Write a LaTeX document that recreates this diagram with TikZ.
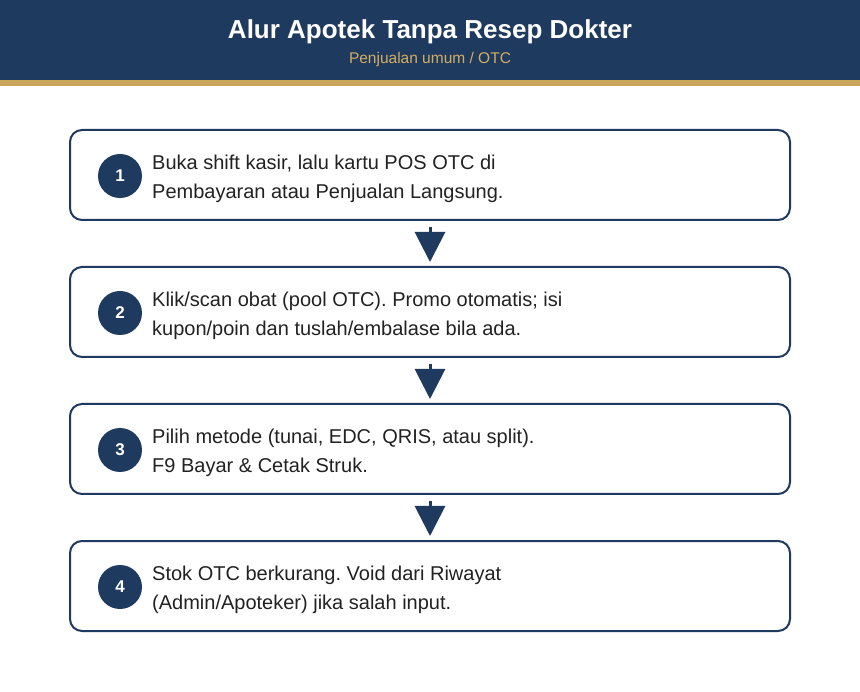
\documentclass[tikz,border=0pt]{standalone}
\usepackage{fontspec}
\setmainfont{Liberation Sans}
\frenchspacing
\usetikzlibrary{arrows.meta}
\definecolor{navy}{HTML}{1F3A5F}
\definecolor{gold}{HTML}{C8A55A}
\definecolor{subgold}{HTML}{D2AE62}
\definecolor{txt}{HTML}{222222}
\tikzset{
  stepbox/.style={draw=navy, line width=2pt, rounded corners=12pt, minimum width=720pt, minimum height=90pt, fill=white},
  numcirc/.style={circle, fill=navy, minimum size=44pt, inner sep=0pt, text=white, font=\fontsize{17pt}{19pt}\selectfont\bfseries},
  steptext/.style={anchor=west, align=left, text=txt, inner sep=0pt, font=\fontsize{20pt}{29pt}\selectfont},
  flowarrow/.style={draw=navy, line width=3pt, -{Triangle[width=30pt,length=30pt]}, shorten >=4pt, shorten <=6pt}
}
\begin{document}
\begin{tikzpicture}[x=1pt,y=-1pt]
\useasboundingbox (0,0) rectangle (860,692);
\fill[white] (0,0) rectangle (860,692);
\fill[navy] (0,0) rectangle (860,80);
\fill[gold] (0,80) rectangle (860,86);
\node[font=\fontsize{26pt}{30pt}\selectfont\bfseries, text=white] (title) at (430,31.5) {Alur Apotek Tanpa Resep Dokter};
\node[font=\fontsize{15.5pt}{18pt}\selectfont, text=subgold] (subtitle) at (430,59) {Penjualan umum / OTC};

\node[stepbox] (b1) at (430,175) {};
\node[stepbox] (b2) at (430,312) {};
\node[stepbox] (b3) at (430,449) {};
\node[stepbox] (b4) at (430,586) {};

\foreach \i/\y in {1/176,2/313,3/450,4/587}{
  \node[numcirc] (c\i) at (120,\y) {\i};
}
\node[steptext] (t1) at (152,179) {Buka shift kasir, lalu kartu POS OTC di\\Pembayaran atau Penjualan Langsung.};
\node[steptext] (t2) at (152,316) {Klik/scan obat (pool OTC). Promo otomatis; isi\\kupon/poin dan tuslah/embalase bila ada.};
\node[steptext] (t3) at (152,453) {Pilih metode (tunai, EDC, QRIS, atau split).\\F9 Bayar \& Cetak Struk.};
\node[steptext] (t4) at (152,590) {Stok OTC berkurang. Void dari Riwayat\\(Admin/Apoteker) jika salah input.};

\draw[flowarrow] (b1.south) -- (b2.north);
\draw[flowarrow] (b2.south) -- (b3.north);
\draw[flowarrow] (b3.south) -- (b4.north);
\end{tikzpicture}
\end{document}
